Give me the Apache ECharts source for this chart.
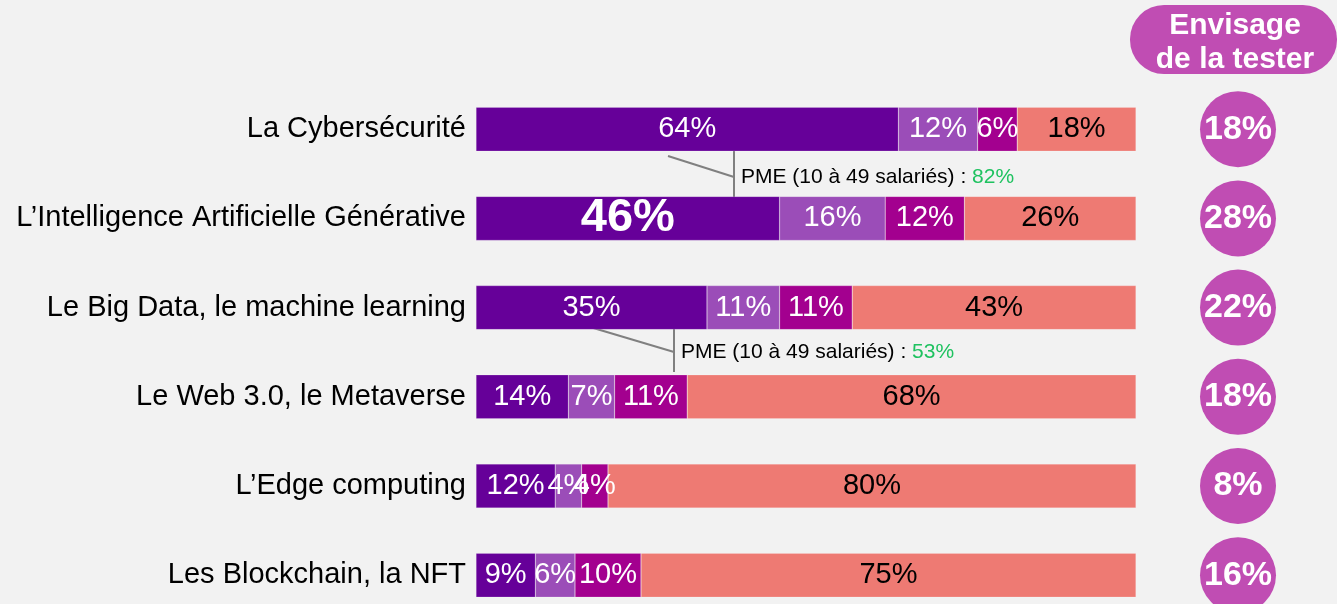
<!DOCTYPE html>
<html>
<head>
<meta charset="utf-8">
<script src="https://cdn.jsdelivr.net/npm/echarts@6/dist/echarts.min.js"></script>
<style>
  html, body { margin: 0; padding: 0; background: #f2f2f2; }
  #main { width: 1337px; height: 604px; }
</style>
</head>
<body>
<div id="main"></div>
<script>
// données
var categories = [
  "La Cybersécurité",
  "L\u2019Intelligence Artificielle Générative",
  "Le Big Data, le machine learning",
  "Le Web 3.0, le Metaverse",
  "L\u2019Edge computing",
  "Les Blockchain, la NFT"
];
var serieA = [64, 46, 35, 14, 12, 9];
var serieB = [12, 16, 11, 7, 4, 6];
var serieC = [6, 12, 11, 11, 4, 10];
var serieD = [18, 26, 43, 68, 80, 75];
var envisage = [18, 28, 22, 18, 8, 16];

var colors = ["#660099", "#9b4db8", "#a3008f", "#ee7a73"];
var font = "Liberation Sans, Arial, sans-serif";

var chart = echarts.init(document.getElementById("main"));

function barSerie(name, values, color, labelColor) {
  return {
    name: name,
    type: "bar",
    stack: "total",
    xAxisIndex: 0,
    yAxisIndex: 0,
    barWidth: 44,
    itemStyle: { color: color, borderColor: "rgba(255,255,255,0.35)", borderWidth: 0.5 },
    label: {
      show: true,
      position: "inside",
      color: labelColor,
      fontFamily: font,
      fontSize: 29,
      formatter: "{c}%"
    },
    data: values.map(function (v, i) {
      // 46% en gras dans la ligne IA générative
      if (name === "a" && i === 1) {
        return { value: v, label: { fontSize: 47, fontWeight: "bold" } };
      }
      return v;
    })
  };
}

var series = [
  barSerie("a", serieA, colors[0], "#fff"),
  barSerie("b", serieB, colors[1], "#fff"),
  barSerie("c", serieC, colors[2], "#fff"),
  barSerie("d", serieD, colors[3], "#000"),
  {
    type: "scatter",
    xAxisIndex: 1,
    yAxisIndex: 1,
    symbolSize: 76,
    itemStyle: { color: "#c04db3", opacity: 1 },
    label: {
      show: true,
      position: "inside",
      color: "#fff",
      fontFamily: font,
      fontWeight: "bold",
      fontSize: 34,
      formatter: function (p) { return p.value[2] + "%"; }
    },
    // x au centre, y = index de catégorie, 3e valeur = pourcentage
    data: envisage.map(function (v, i) {
      return { value: [0.5, i, v] };
    })
  }
];

var lineStyle = { stroke: "#808080", lineWidth: 2 };
function annotation(x1, y1, xv, yv1, yv2, ty, pct) {
  return [
    { type: "line", shape: { x1: x1, y1: y1, x2: xv, y2: ty }, style: lineStyle },
    { type: "line", shape: { x1: xv, y1: yv1, x2: xv, y2: yv2 }, style: lineStyle },
    {
      type: "text",
      x: xv + 7,
      y: ty,
      style: {
        text: "{a|PME (10 à 49 salariés) : }{b|" + pct + "}",
        verticalAlign: "middle",
        rich: {
          a: { fontFamily: font, fontSize: 21, fill: "#000" },
          b: { fontFamily: font, fontSize: 21, fill: "#1fc260" }
        }
      }
    }
  ];
}

var option = {
  backgroundColor: "#f2f2f2",
  animation: false,
  grid: [
    { left: 476, width: 660, top: 84.6, height: 535.2, outerBoundsMode: "none" },
    { left: 1200, width: 76, top: 84.6, height: 535.2, outerBoundsMode: "none" }
  ],
  xAxis: [
    { type: "value", min: 0, max: 100, show: false, gridIndex: 0 },
    { type: "value", min: 0, max: 1, show: false, gridIndex: 1 }
  ],
  yAxis: [
    {
      type: "category",
      data: categories,
      inverse: true,
      gridIndex: 0,
      axisLine: { show: false },
      axisTick: { show: false },
      axisLabel: { color: "#000", fontFamily: font, fontSize: 29, margin: 10 }
    },
    {
      type: "category",
      data: categories,
      inverse: true,
      gridIndex: 1,
      show: false
    }
  ],
  graphic: [
    {
      type: "rect",
      shape: { x: 1130, y: 5, width: 207, height: 69, r: 34 },
      style: { fill: "#c04db3" }
    },
    {
      type: "text",
      x: 1235,
      y: 43,
      style: {
        text: "Envisage\nde la tester",
        align: "center",
        verticalAlign: "middle",
        fill: "#fff",
        fontFamily: font,
        fontWeight: "bold",
        fontSize: 30,
        lineHeight: 34
      }
    }
  ]
    .concat(annotation(668, 156, 734, 150, 198, 177, "82%"))
    .concat(annotation(590, 327, 674, 327, 372, 352, "53%")),
  series: series
};

chart.setOption(option);
</script>
</body>
</html>
